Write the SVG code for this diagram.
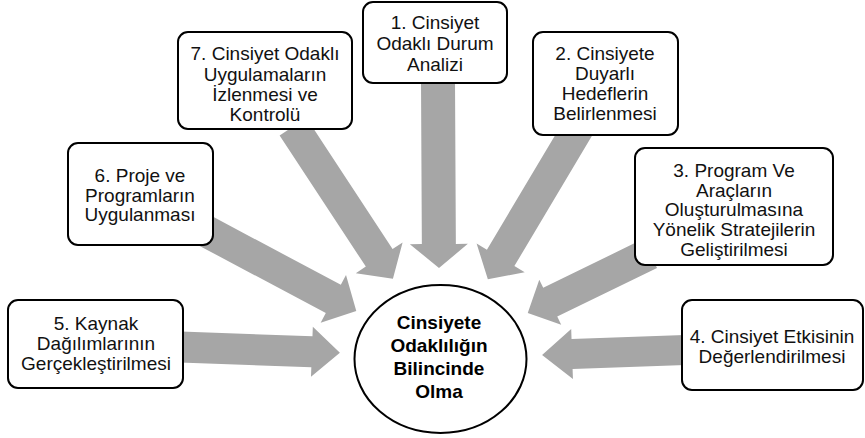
<svg xmlns="http://www.w3.org/2000/svg" width="865" height="438" viewBox="0 0 865 438">
<style>
.arrow{fill:#a6a6a6;stroke:none}
.box{fill:#fff;stroke:#000;stroke-width:2}
.lbl{font-family:"Liberation Sans",Arial,sans-serif;font-size:19px;fill:#111;text-anchor:middle}
.ctr{font-family:"Liberation Sans",Arial,sans-serif;font-size:19px;font-weight:bold;fill:#000;text-anchor:middle}
</style>
<rect width="865" height="438" fill="#fff"/>
<g id="connectors">
<polygon class="arrow" transform="translate(438,80) rotate(89.7)" points="0,-17 164,-17 164,-29 188,0 164,29 164,17 0,17"/>
<polygon class="arrow" transform="translate(293,126.6) rotate(56.7)" points="0,-16 157,-16 157,-28 182,0 157,28 157,16 0,16"/>
<polygon class="arrow" transform="translate(579,126.4) rotate(120.8)" points="0,-16 153,-16 153,-28 178,0 153,28 153,16 0,16"/>
<polygon class="arrow" transform="translate(200,228) rotate(28)" points="0,-16 151,-16 151,-27 177,0 151,27 151,16 0,16"/>
<polygon class="arrow" transform="translate(180,347) rotate(2.1)" points="0,-15.5 132,-15.5 132,-25 160,0 132,25 132,15.5 0,15.5"/>
<polygon class="arrow" transform="translate(685,350) rotate(178)" points="0,-15 113,-15 113,-25 143,0 113,25 113,15 0,15"/>
<polygon class="arrow" transform="translate(650,253.5) rotate(154)" points="0,-16 111,-16 111,-25 136,0 111,25 111,16 0,16"/>
</g>
<g id="node1">
<rect class="box" x="363" y="2" width="144" height="81" rx="10"/>
<text class="lbl" x="435" y="29">1. Cinsiyet</text>
<text class="lbl" x="435" y="50">Odaklı Durum</text>
<text class="lbl" x="435" y="71">Analizi</text>
</g>
<g id="node2">
<rect class="box" x="533" y="32" width="145" height="103" rx="10"/>
<text class="lbl" x="605" y="60">2. Cinsiyete</text>
<text class="lbl" x="605" y="80">Duyarlı</text>
<text class="lbl" x="605" y="100">Hedeflerin</text>
<text class="lbl" x="605" y="120">Belirlenmesi</text>
</g>
<g id="node3">
<rect class="box" x="635" y="148" width="198" height="117" rx="10"/>
<text class="lbl" x="734" y="177">3. Program Ve</text>
<text class="lbl" x="734" y="197">Araçların</text>
<text class="lbl" x="734" y="216">Oluşturulmasına</text>
<text class="lbl" x="734" y="236">Yönelik Stratejilerin</text>
<text class="lbl" x="734" y="256">Geliştirilmesi</text>
</g>
<g id="node4">
<rect class="box" x="682" y="300" width="181" height="90" rx="10"/>
<text class="lbl" x="772" y="343">4. Cinsiyet Etkisinin</text>
<text class="lbl" x="772" y="363">Değerlendirilmesi</text>
</g>
<g id="node5">
<rect class="box" x="8" y="300" width="175" height="88" rx="10"/>
<text class="lbl" x="96" y="330">5. Kaynak</text>
<text class="lbl" x="96" y="350">Dağılımlarının</text>
<text class="lbl" x="96" y="370">Gerçekleştirilmesi</text>
</g>
<g id="node6">
<rect class="box" x="68" y="143" width="145" height="102" rx="10"/>
<text class="lbl" x="140" y="182">6. Proje ve</text>
<text class="lbl" x="140" y="202">Programların</text>
<text class="lbl" x="140" y="221">Uygulanması</text>
</g>
<g id="node7">
<rect class="box" x="178" y="32" width="174" height="97" rx="10"/>
<text class="lbl" x="265" y="60">7. Cinsiyet Odaklı</text>
<text class="lbl" x="265" y="81">Uygulamaların</text>
<text class="lbl" x="265" y="101">İzlenmesi ve</text>
<text class="lbl" x="265" y="121">Kontrolü</text>
</g>
<g id="center">
<ellipse cx="440.5" cy="359" rx="86" ry="74" fill="#fff" stroke="#000" stroke-width="2"/>
<text class="ctr" x="439" y="329">Cinsiyete</text>
<text class="ctr" x="439" y="352">Odaklılığın</text>
<text class="ctr" x="439" y="375">Bilincinde</text>
<text class="ctr" x="439" y="398">Olma</text>
</g>
</svg>
